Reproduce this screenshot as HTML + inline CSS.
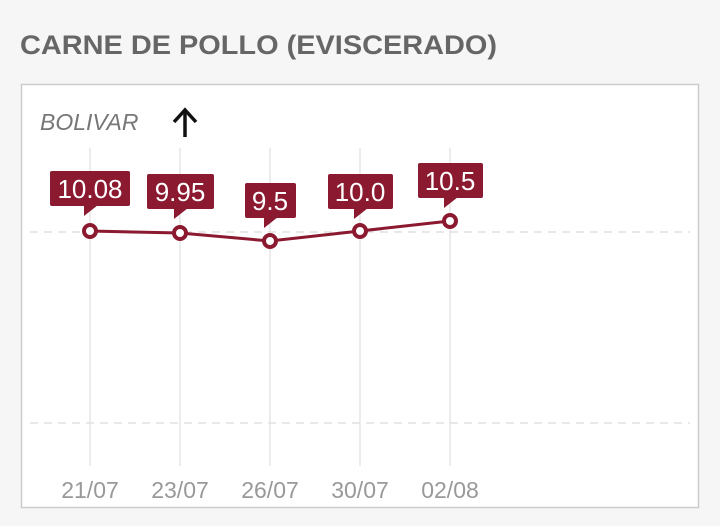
<!DOCTYPE html>
<html><head><style>
body{margin:0;width:720px;height:526px;background:#f6f6f6;font-family:"Liberation Sans",sans-serif;overflow:hidden}
</style></head><body>
<svg width="720" height="526" xmlns="http://www.w3.org/2000/svg" style="position:absolute;left:0;top:0">
<text x="20" y="54" font-size="27" font-weight="bold" fill="#666" textLength="477" lengthAdjust="spacingAndGlyphs" font-family="Liberation Sans, sans-serif">CARNE DE POLLO (EVISCERADO)</text>
<rect x="21.5" y="84.5" width="677" height="423" fill="#fff" stroke="#ccc" stroke-width="1.5"/>
<text x="40" y="130" font-size="23" font-style="italic" fill="#777" font-family="Liberation Sans, sans-serif">BOLIVAR</text>
<g stroke="#111" stroke-width="3.5" fill="none"><line x1="185" y1="137" x2="185" y2="110"/><polyline points="174,122 185,110 196,122"/></g>
<g stroke="#e6e6e6" stroke-width="1.5">
<line x1="90" y1="148" x2="90" y2="466"/><line x1="180" y1="148" x2="180" y2="466"/><line x1="270" y1="148" x2="270" y2="466"/><line x1="360" y1="148" x2="360" y2="466"/><line x1="450" y1="148" x2="450" y2="466"/>
</g>
<g stroke="#e0e0e0" stroke-width="1.5" stroke-dasharray="8,6">
<line x1="30" y1="232" x2="690" y2="232"/><line x1="30" y1="423" x2="690" y2="423"/>
</g>
<polyline points="90,231 180,233 270,241 360,231 450,221" fill="none" stroke="#8b1a30" stroke-width="3"/>
<g fill="#fff" stroke="#8b1a30" stroke-width="4">
<circle cx="90" cy="231" r="6"/><circle cx="180" cy="233" r="6"/><circle cx="270" cy="241" r="6"/><circle cx="360" cy="231" r="6"/><circle cx="450" cy="221" r="6"/>
</g>
<g fill="#8b1a30">
<rect x="50" y="171" width="80" height="35" rx="2"/><polygon points="84,205 98,205 84,216"/>
<rect x="147" y="174" width="67" height="35" rx="2"/><polygon points="174,208 188,208 174,219"/>
<rect x="245" y="183" width="51" height="35" rx="2"/><polygon points="264,217 278,217 264,228"/>
<rect x="328" y="174" width="65" height="35" rx="2"/><polygon points="354,208 368,208 354,219"/>
<rect x="418" y="163" width="65" height="35" rx="2"/><polygon points="444,197 458,197 444,208"/>
</g>
<g fill="#fff" font-size="26" text-anchor="middle" font-family="Liberation Sans, sans-serif">
<text x="90" y="198">10.08</text><text x="180" y="201">9.95</text><text x="270" y="210">9.5</text><text x="360" y="201">10.0</text><text x="450" y="190">10.5</text>
</g>
<g fill="#999" font-size="23" text-anchor="middle" font-family="Liberation Sans, sans-serif">
<text x="90" y="498">21/07</text><text x="180" y="498">23/07</text><text x="270" y="498">26/07</text><text x="360" y="498">30/07</text><text x="450" y="498">02/08</text>
</g>
</svg>
</body></html>
